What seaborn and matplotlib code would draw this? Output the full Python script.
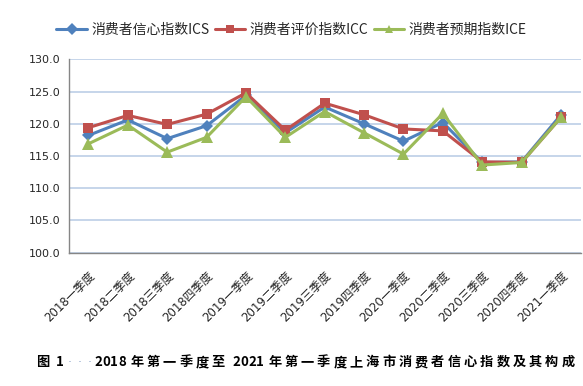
import numpy as np
import pandas as pd
import matplotlib
matplotlib.use("Agg")
import matplotlib.pyplot as plt
import matplotlib.transforms as mtransforms
import seaborn as sns

# quarters on the x axis
quarters = ["2018一季度", "2018二季度", "2018三季度", "2018四季度",
            "2019一季度", "2019二季度", "2019三季度", "2019四季度",
            "2020一季度", "2020二季度", "2020三季度", "2020四季度",
            "2021一季度"]

# index values
ics = [118.2, 120.6, 117.7, 119.7, 124.4, 118.6, 122.6, 120.0, 117.3, 120.2, 114.0, 114.1, 121.4]
icc = [119.4, 121.3, 119.9, 121.5, 124.8, 119.0, 123.2, 121.4, 119.2, 118.9, 114.1, 114.0, 121.0]
ice = [116.9, 119.8, 115.6, 117.9, 124.2, 117.9, 121.9, 118.6, 115.3, 121.6, 113.6, 114.0, 121.0]

names = ["消费者信心指数ICS", "消费者评价指数ICC", "消费者预期指数ICE"]
colors = ["#4F81BD", "#C0504D", "#9BBB59"]
marks = ["D", "s", "^"]

caption = "图 1···2018 年第一季度至 2021 年第一季度上海市消费者信心指数及其构成"

sns.set_style("white")
plt.rcParams["font.family"] = ["DejaVu Sans", "Noto Sans CJK SC"]

df = pd.DataFrame({
    "quarter": quarters * 3,
    "value": ics + icc + ice,
    "series": [names[0]] * 13 + [names[1]] * 13 + [names[2]] * 13,
})

fig = plt.figure(figsize=(5.83, 3.86), dpi=100)
ax = fig.add_axes([0.118, 0.3453, 0.878, 0.501])

sns.lineplot(data=df, x="quarter", y="value", hue="series", style="series",
             palette=dict(zip(names, colors)), markers=dict(zip(names, marks)),
             dashes=False, sort=False, linewidth=2.2, markersize=6,
             markeredgewidth=0, ax=ax, zorder=3)

# marker sizes per series, like the original
for line, ms in zip(ax.get_lines(), [6, 6.5, 8]):
    line.set_markersize(ms)

ax.set_xlim(-0.5, len(quarters) - 0.5)
ax.set_ylim(100, 130)
ax.set_yticks(np.arange(100, 131, 5))
ax.set_yticklabels([f"{v:.1f}" for v in np.arange(100, 131, 5)], fontsize=8)
ax.yaxis.grid(True, color="#C6D5EA", linewidth=1.4)
ax.set_axisbelow(True)

ax.set_xticks(range(len(quarters)))
ax.set_xticklabels(quarters, rotation=45, ha="right", rotation_mode="anchor", fontsize=8.5)
shift = mtransforms.ScaledTranslation(5 / 100, 0, fig.dpi_scale_trans)
for lab in ax.get_xticklabels():
    lab.set_transform(lab.get_transform() + shift)
ax.set_xticks(np.arange(-0.5, len(quarters)), minor=True)
ax.tick_params(axis="x", which="major", length=0, pad=12)
ax.tick_params(axis="x", which="minor", length=5, color="#868686", width=1)
ax.tick_params(axis="y", length=4, color="#868686", width=1, pad=2)

for s in ["top", "right"]:
    ax.spines[s].set_visible(False)
for s in ["left", "bottom"]:
    ax.spines[s].set_color("#868686")
    ax.spines[s].set_linewidth(1)

ax.set_xlabel("")
ax.set_ylabel("")

handles, labels = ax.get_legend_handles_labels()
ax.legend(handles, labels, loc="center", bbox_to_anchor=(0.5, 0.922),
          bbox_transform=fig.transFigure, ncol=3, frameon=False,
          handlelength=2.2, handletextpad=0.3, columnspacing=0.4,
          prop={"family": ["Noto Sans CJK SC"], "size": 10})

# caption: wide letter spacing, so each character gets its own slot (pixels)
x_px = 36.0
for ch in caption:
    if ch == " ":
        x_px += 4.0
        continue
    if ch == "·":
        fig.text((x_px + 3) / 583, 0.062, ch, ha="left", va="center", fontsize=9,
                 color="#8FA6CA", family=["DejaVu Sans"])
        x_px += 10.0
        continue
    fig.text(x_px / 583, 0.062, ch, ha="left", va="center", fontsize=9.5,
             fontweight="bold", color="black", family=["Noto Sans CJK SC"])
    x_px += 8.0 if ch.isascii() else 16.3

fig.savefig("out.png", dpi=100)
